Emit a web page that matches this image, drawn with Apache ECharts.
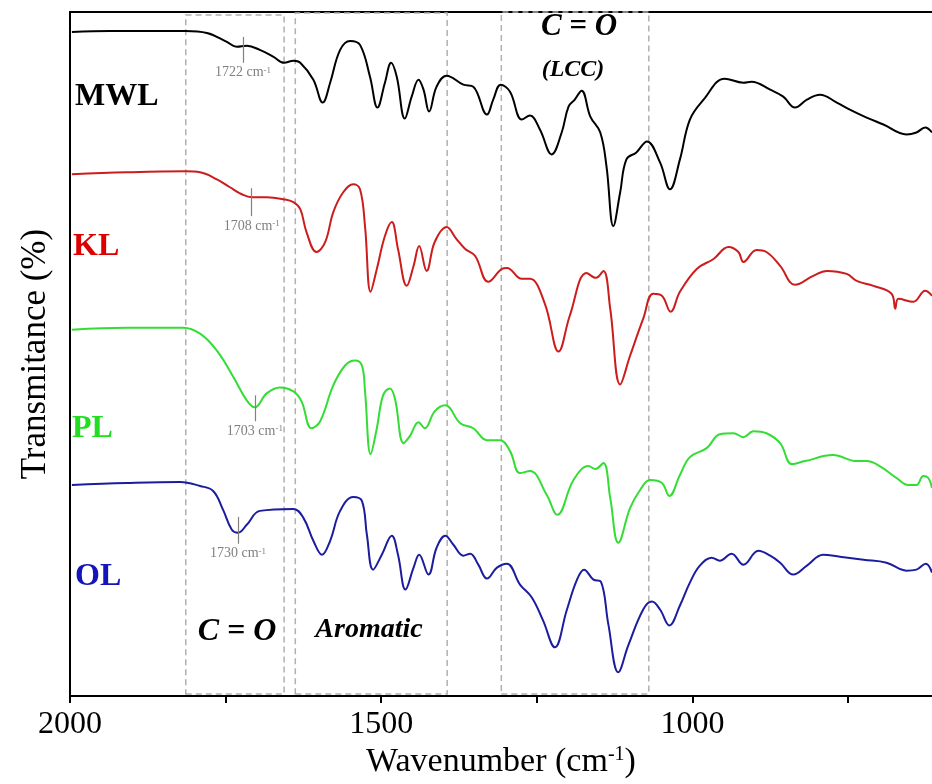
<!DOCTYPE html>
<html>
<head>
<meta charset="utf-8">
<script src="https://cdn.jsdelivr.net/npm/echarts@6/dist/echarts.min.js"></script>
<style>
  html, body { margin: 0; padding: 0; background: #fff; }
  #charts { width: 932px; height: 784px; }
</style>
</head>
<body>
<div id="charts"></div>
<script>
// wavenumber (cm-1) and transmittance (a.u., stacked offsets)
const wnMWL = [1997,1936,1814,1780,1748,1732,1716,1695,1673,1656,1641,1630,1609,1594,1582,1566,1550,1534,1518,1506,1494,1484,1475,1462,1451,1440,1432,1423,1411,1395,1368,1352,1330,1320,1308,1293,1274,1261,1245,1226,1210,1199,1189,1178,1164,1148,1138,1127,1116,1106,1090,1073,1052,1036,1020,1004,982,948,918,905,875,854,835,816,795,768,747,720,693,656,640,626,615];
const tMWL = [667,668,668,666,657,652,653,649,642,636,638,636,619,596,616,649,658,654,622,591,616,636,622,580,602,619,609,587,612,623,614,612,584,599,614,607,579,583,569,544,566,592,599,608,582,566,532,472,506,539,546,557,536,509,539,579,599,620,616,617,609,602,591,599,604,596,589,581,574,564,566,571,566];

const wnKL = [1997,1909,1814,1791,1764,1743,1724,1708,1684,1657,1641,1630,1620,1604,1590,1577,1561,1545,1534,1526,1517,1507,1494,1483,1473,1459,1448,1439,1427,1414,1395,1379,1365,1349,1328,1306,1298,1274,1261,1237,1215,1197,1170,1155,1143,1132,1116,1100,1079,1063,1049,1035,1020,993,966,942,926,918,897,881,859,835,806,784,752,736,709,680,674,669,645,626,615];
const tKL = [524,526,527,526,519,511,504,501,501,499,496,489,466,446,456,486,506,514,509,472,406,429,462,476,449,412,432,452,427,456,471,459,449,442,416,429,430,419,419,394,346,382,425,420,427,389,313,342,379,404,402,386,406,429,439,451,446,436,448,446,432,413,422,427,424,417,412,404,389,399,396,407,402];

const wnPL = [1997,1909,1818,1791,1764,1738,1716,1703,1684,1663,1641,1628,1612,1598,1577,1558,1542,1531,1526,1517,1507,1497,1486,1478,1464,1454,1440,1430,1414,1397,1373,1352,1330,1309,1293,1277,1261,1234,1217,1191,1167,1156,1143,1132,1119,1100,1084,1068,1049,1037,1020,1004,977,956,934,918,902,881,859,840,819,774,736,720,699,672,653,640,629,621,615];
const tPL = [368,370,370,364,347,321,297,290,304,310,306,296,269,276,312,332,337,332,306,243,269,302,309,299,254,261,275,269,286,292,274,269,257,257,246,224,226,202,182,217,231,228,234,199,154,189,207,217,214,201,222,240,249,263,264,260,266,264,254,233,236,242,236,236,231,219,212,212,221,219,209];

const wnOL = [1997,1909,1823,1791,1770,1754,1740,1730,1716,1695,1641,1625,1609,1595,1582,1566,1545,1531,1523,1513,1499,1483,1473,1461,1448,1439,1424,1411,1397,1384,1368,1357,1344,1330,1314,1298,1277,1258,1240,1221,1202,1186,1174,1159,1147,1135,1119,1103,1079,1065,1052,1037,1020,1004,988,969,956,937,918,894,875,859,838,816,790,763,725,688,656,640,625,615];
const tOL = [212,214,215,211,206,187,167,164,172,186,188,179,156,142,156,186,200,196,162,127,142,161,142,107,129,142,122,149,161,152,141,143,132,118,129,133,112,99,76,49,86,116,127,117,115,72,24,51,87,95,87,71,91,114,131,139,136,143,132,146,141,134,122,131,142,140,137,134,126,127,133,124];

const sampleNames = ["MWL", "KL", "PL", "OL"];
const lineColors = ["#000000", "#cc1c1c", "#33dd33", "#1c1c9e"];
const nameColors = ["#000000", "#dd0000", "#22dd22", "#1414b8"];

// carbonyl peak marks: [wavenumber, tick top, tick bottom]
const peakMarks = [[1722, 662, 636], [1708, 510, 482], [1703, 302, 276], [1730, 180, 153]];

// dashed regions: [from, to, bottom, top]
const regions = [[1814, 1656, 2, 684], [1638, 1394, 2, 686], [1307, 1070, 2, 687]];

const xTicks = [2000, 1750, 1500, 1250, 1000, 750];
const xLabels = [2000, 1500, 1000];

const serif = '"Liberation Serif", "Times New Roman", serif';

function pairs(xs, ys) {
  return xs.map((x, i) => [x, ys[i]]);
}

let chartDom = document.getElementById("charts");
let myChart = echarts.init(chartDom);

let waves = [pairs(wnMWL, tMWL), pairs(wnKL, tKL), pairs(wnPL, tPL), pairs(wnOL, tOL)];

let series = waves.map((d, i) => ({
  name: sampleNames[i],
  type: "line",
  data: d,
  showSymbol: false,
  smooth: 0.4,
  silent: true,
  z: 3,
  lineStyle: { color: lineColors[i], width: 2 },
  markLine: {
    silent: true,
    symbol: ["none", "none"],
    lineStyle: { color: "#808080", width: 1.2, type: "solid" },
    label: {
      show: true,
      position: "end",
      distance: 3,
      formatter: peakMarks[i][0] + " cm{sup|-1}",
      color: "#808080",
      fontFamily: serif,
      fontSize: 14,
      rich: {
        sup: { fontSize: 9, color: "#808080", fontFamily: serif, verticalAlign: "top", lineHeight: 9 },
      },
    },
    data: [[
      { coord: [peakMarks[i][0], peakMarks[i][1]] },
      { coord: [peakMarks[i][0], peakMarks[i][2]] },
    ]],
  },
}));

series.push({
  type: "line",
  data: [],
  silent: true,
  markArea: {
    silent: true,
    itemStyle: {
      color: "rgba(0,0,0,0)",
      borderColor: "#b0b0b0",
      borderWidth: 1.5,
      borderType: [6, 4],
    },
    data: regions.map((r) => [
      { xAxis: r[0], yAxis: r[2] },
      { xAxis: r[1], yAxis: r[3] },
    ]),
  },
});

let option = {
  animation: false,
  backgroundColor: "#fff",
  grid: { left: 70, right: 0, top: 12, bottom: 85 },
  xAxis: [
    {
      type: "value",
      min: 615,
      max: 2000,
      inverse: true,
      name: "Wavenumber (cm{sup|-1})",
      nameLocation: "middle",
      nameGap: 48,
      nameTextStyle: {
        fontFamily: serif,
        fontSize: 34,
        color: "#000",
        rich: {
          sup: { fontFamily: serif, fontSize: 20, color: "#000", verticalAlign: "top", padding: [0, 0, 14, 0] },
        },
      },
      axisLine: { show: true, onZero: false, lineStyle: { color: "#000", width: 2 } },
      axisTick: { show: true, inside: false, length: 7, lineStyle: { color: "#000", width: 2 }, customValues: xTicks },
      axisLabel: {
        customValues: xLabels,
        formatter: (v) => String(v),
        margin: 12,
        fontFamily: serif,
        fontSize: 32,
        color: "#000",
      },
      splitLine: { show: false },
    },
    {
      type: "value",
      position: "top",
      min: 615,
      max: 2000,
      inverse: true,
      axisLine: { show: true, onZero: false, lineStyle: { color: "#000", width: 2 } },
      axisTick: { show: false },
      axisLabel: { show: false },
      splitLine: { show: false },
    },
  ],
  yAxis: {
    type: "value",
    min: 0,
    max: 687,
    name: "Transmitance (%)",
    nameLocation: "middle",
    nameGap: 17,
    nameTextStyle: { fontFamily: serif, fontSize: 35, color: "#000" },
    axisLine: { show: true, lineStyle: { color: "#000", width: 2 } },
    axisTick: { show: false },
    axisLabel: { show: false },
    splitLine: { show: false },
  },
  graphic: [
    { type: "text", x: 75, y: 97, style: { text: "MWL", font: "bold 32px " + serif, fill: nameColors[0], verticalAlign: "middle" } },
    { type: "text", x: 73, y: 247, style: { text: "KL", font: "bold 32px " + serif, fill: nameColors[1], verticalAlign: "middle" } },
    { type: "text", x: 72, y: 429, style: { text: "PL", font: "bold 32px " + serif, fill: nameColors[2], verticalAlign: "middle" } },
    { type: "text", x: 75, y: 577, style: { text: "OL", font: "bold 32px " + serif, fill: nameColors[3], verticalAlign: "middle" } },
    { type: "text", x: 237, y: 632, style: { text: "C = O", font: "italic bold 32px " + serif, fill: "#000", align: "center", verticalAlign: "middle" } },
    { type: "text", x: 369, y: 630, style: { text: "Aromatic", font: "italic bold 28px " + serif, fill: "#000", align: "center", verticalAlign: "middle" } },
    { type: "text", x: 579, y: 27, style: { text: "C = O", font: "italic bold 31px " + serif, fill: "#000", align: "center", verticalAlign: "middle" } },
    { type: "text", x: 573, y: 70, style: { text: "(LCC)", font: "italic bold 24px " + serif, fill: "#000", align: "center", verticalAlign: "middle" } },
  ],
  series: series,
};

option && myChart.setOption(option);
</script>
</body>
</html>
